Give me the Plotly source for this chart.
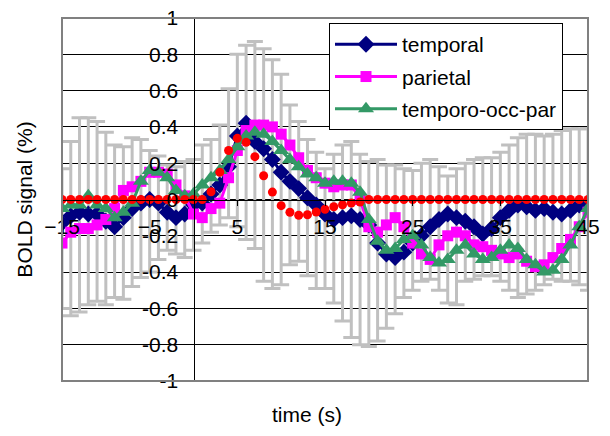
import numpy as np
import plotly.graph_objects as go

time_s = list(range(-15, 46))

temporal = [-0.13, -0.09, -0.07, -0.08, -0.08, -0.12, -0.15, -0.10, -0.05, -0.02,
            0.00, -0.02, -0.07, -0.10, -0.08, -0.03, -0.02, 0.03, 0.08, 0.18,
            0.35, 0.42, 0.32, 0.28, 0.22, 0.15, 0.10, 0.06, 0.01, -0.03,
            -0.08, -0.11, -0.10, -0.09, -0.11, -0.14, -0.24, -0.30, -0.32, -0.29,
            -0.24, -0.20, -0.15, -0.11, -0.08, -0.10, -0.12, -0.15, -0.19, -0.16,
            -0.10, -0.06, -0.03, -0.04, -0.06, -0.05, -0.07, -0.08, -0.06, -0.03,
            -0.05]

parietal = [-0.24, -0.18, -0.16, -0.16, -0.14, -0.11, -0.05, 0.05, 0.07, 0.10,
            0.15, 0.15, 0.14, 0.08, 0.02, -0.08, -0.10, -0.05, -0.02, 0.12,
            0.27, 0.38, 0.41, 0.41, 0.40, 0.36, 0.30, 0.23, 0.16, 0.12,
            0.09, 0.07, 0.08, 0.08, 0.00, -0.15, -0.18, -0.14, -0.10, -0.15,
            -0.24, -0.30, -0.33, -0.25, -0.20, -0.18, -0.20, -0.25, -0.26, -0.28,
            -0.30, -0.32, -0.30, -0.34, -0.37, -0.36, -0.32, -0.27, -0.22, -0.15,
            -0.07]

temporo_occ_par = [-0.05, -0.03, -0.03, 0.02, -0.03, -0.05, -0.10, -0.07, -0.02, 0.10,
                   0.16, 0.15, 0.12, 0.05, 0.02, 0.03, 0.08, 0.12, 0.16, 0.22,
                   0.29, 0.35, 0.37, 0.36, 0.32, 0.27, 0.22, 0.18, 0.14, 0.12,
                   0.09, 0.10, 0.10, 0.09, 0.04, -0.11, -0.23, -0.28, -0.27, -0.22,
                   -0.20, -0.25, -0.32, -0.35, -0.33, -0.28, -0.25, -0.30, -0.33, -0.32,
                   -0.28, -0.25, -0.27, -0.33, -0.36, -0.40, -0.39, -0.33, -0.25, -0.15,
                   -0.05]

model_hrf = [0.0] * 15 + [0.0, 0.0, 0.043, 0.15, 0.27, 0.337, 0.315, 0.236, 0.131, 0.041,
                          -0.034, -0.07, -0.087, -0.084, -0.069, -0.054, -0.04, -0.029, -0.019, -0.014] + [0.0] * 26

err_upper = [0.17, 0.32, 0.45, 0.45, 0.43, 0.37, 0.30, 0.29, 0.34, 0.33,
             0.27, 0.24, 0.19, 0.18, 0.21, 0.22, 0.30, 0.33, 0.41, 0.61,
             0.80, 0.85, 0.87, 0.83, 0.77, 0.69, 0.52, 0.43, 0.33, 0.26,
             0.17, 0.25, 0.30, 0.32, 0.25, 0.21, 0.22, 0.19, 0.19, 0.17,
             0.16, 0.20, 0.22, 0.18, 0.13, 0.17, 0.20, 0.22, 0.23, 0.23,
             0.26, 0.30, 0.34, 0.36, 0.36, 0.35, 0.36, 0.38, 0.39, 0.39,
             0.39]

err_lower = [-0.60, -0.64, -0.62, -0.58, -0.56, -0.58, -0.54, -0.55, -0.48, -0.43,
             -0.40, -0.33, -0.28, -0.30, -0.32, -0.28, -0.24, -0.18, -0.14, -0.10,
             -0.15, -0.22, -0.27, -0.45, -0.49, -0.47, -0.36, -0.34, -0.42, -0.49,
             -0.49, -0.57, -0.67, -0.76, -0.80, -0.81, -0.78, -0.71, -0.63, -0.54,
             -0.50, -0.45, -0.44, -0.50, -0.57, -0.58, -0.45, -0.44, -0.42, -0.42,
             -0.45, -0.50, -0.54, -0.52, -0.50, -0.47, -0.44, -0.45, -0.45, -0.47,
             -0.50]

x_ticks = [-15, -5, 5, 15, 25, 35, 45]
y_ticks = [1, 0.8, 0.6, 0.4, 0.2, 0, -0.2, -0.4, -0.6, -0.8, -1]
y_tick_text = ["1", "0.8", "0.6", "0.4", "0.2", "0", "-0.2", "-0.4", "-0.6", "-0.8", "-1"]

FONT = "Liberation Sans, Arial, sans-serif"
t = np.array(temporal)

fig = go.Figure()

# error bars (drawn first, behind all series)
fig.add_trace(go.Scatter(
    x=time_s, y=temporal, mode="markers",
    marker=dict(size=1, opacity=0),
    error_y=dict(type="data", symmetric=False,
                 array=list(np.array(err_upper) - t),
                 arrayminus=list(t - np.array(err_lower)),
                 color="#C0C0C0", thickness=3, width=8),
    showlegend=False, hoverinfo="skip"))

fig.add_trace(go.Scatter(
    x=time_s, y=temporal, mode="lines+markers", name="temporal",
    legendgroup="a",
    line=dict(color="#000080", width=3),
    marker=dict(symbol="diamond", size=13, color="#000080")))

fig.add_trace(go.Scatter(
    x=time_s, y=parietal, mode="lines+markers", name="parietal",
    legendgroup="b",
    line=dict(color="#FF00FF", width=3),
    marker=dict(symbol="square", size=11, color="#FF00FF")))

fig.add_trace(go.Scatter(
    x=time_s, y=temporo_occ_par, mode="lines+markers", name="temporo-occ-par",
    legendgroup="c",
    line=dict(color="#339966", width=3),
    marker=dict(symbol="triangle-up", size=14, color="#339966")))

fig.add_trace(go.Scatter(
    x=time_s, y=model_hrf, mode="markers",
    marker=dict(symbol="circle", size=9, color="#FF0000"),
    showlegend=False))

fig.update_layout(
    width=602, height=428,
    margin=dict(l=54, r=22, t=10, b=55, autoexpand=False),
    paper_bgcolor="white", plot_bgcolor="white",
    font=dict(family=FONT, size=21, color="black"),
    showlegend=True,
    legend=dict(x=0.5076, y=0.986, xanchor="left", yanchor="top",
                bgcolor="white", bordercolor="black", borderwidth=1,
                font=dict(family=FONT, size=21, color="black"),
                tracegroupgap=2, itemwidth=62),
    xaxis=dict(range=[-15, 45], anchor="free", position=0.5, automargin=False,
               showline=True, linecolor="black", linewidth=1,
               showgrid=False, zeroline=False,
               ticks="outside", ticklen=5, tickcolor="black",
               tickvals=x_ticks, ticklabelstandoff=3, ticklabeloverflow="allow",
               tickfont=dict(family=FONT, size=21)),
    yaxis=dict(range=[-1, 1], anchor="free", position=0.25, automargin=False,
               showline=True, linecolor="black", linewidth=1,
               showgrid=True, gridcolor="black", gridwidth=1,
               zeroline=False,
               ticks="outside", ticklen=6, tickcolor="black",
               tickvals=y_ticks, ticktext=y_tick_text, ticklabelstandoff=5,
               ticklabeloverflow="allow",
               tickfont=dict(family=FONT, size=21)),
    shapes=[dict(type="rect", xref="paper", yref="paper", x0=0, x1=1, y0=0, y1=1,
                 line=dict(color="#808080", width=2), layer="above")],
    annotations=[
        dict(text="BOLD signal (%)", xref="paper", yref="paper", x=-0.072, y=0.5,
             textangle=-90, showarrow=False, xanchor="center", yanchor="middle",
             font=dict(family=FONT, size=21)),
        dict(text="time (s)", xref="paper", yref="paper", x=0.466, y=-0.091,
             showarrow=False, xanchor="center", yanchor="middle",
             font=dict(family=FONT, size=21)),
    ],
)

fig.write_html("out.html")
